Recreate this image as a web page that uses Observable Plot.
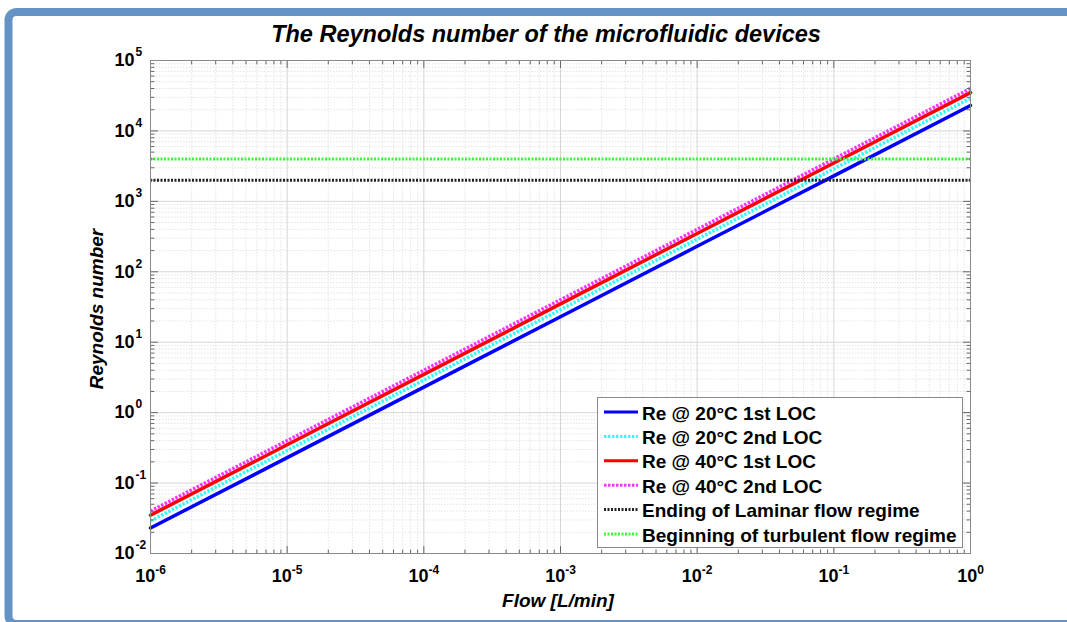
<!DOCTYPE html>
<html>
<head>
<meta charset="utf-8">
<script src="https://cdn.jsdelivr.net/npm/d3@7"></script>
<script src="https://cdn.jsdelivr.net/npm/@observablehq/plot@0.6"></script>
<style>
  html, body { margin: 0; padding: 0; background: #fff; }
  #chart svg { display: block; }
</style>
</head>
<body>
<div id="chart"></div>
<script>
// ---- Data ----
const flow = [1e-6, 1e-5, 1e-4, 1e-3, 1e-2, 1e-1, 1];          // L/min
const re20First  = [0.023, 0.23, 2.3, 23, 230, 2300, 23000];
const re20Second = [0.029, 0.29, 2.9, 29, 290, 2900, 29000];
const re40First  = [0.035, 0.35, 3.5, 35, 350, 3500, 35000];
const re40Second = [0.040, 0.40, 4.0, 40, 400, 4000, 40000];
const laminarEnd = [2000];
const turbulentStart = [4000];
const seriesNames = [
  "Re @ 20°C 1st LOC",
  "Re @ 20°C 2nd LOC",
  "Re @ 40°C 1st LOC",
  "Re @ 40°C 2nd LOC",
  "Ending of Laminar flow regime",
  "Beginning of turbulent flow regime"
];
const xTicks = [1e-6, 1e-5, 1e-4, 1e-3, 1e-2, 1e-1, 1];
const yTicks = [1e-2, 1e-1, 1, 1e1, 1e2, 1e3, 1e4, 1e5];
const titleText = "The Reynolds number of the microfluidic devices";
const xLabel = "Flow [L/min]";
const yLabel = "Reynolds number";

// ---- Styles ----
const colors = ["#0000ff", "#33ffff", "#ff0000", "#ff33ff", "#222222", "#33ff33"];
const dashes = [null, "2.5,1.5", null, "2.5,1.5", "2,1.5", "2,1.5"];
const FONT = "'Liberation Sans', Arial, Helvetica, sans-serif";

const seriesValues = [re20First, re20Second, re40First, re40Second];
const lineData = seriesValues.map(vals => flow.map((f, i) => ({flow: f, re: vals[i]})));

// minor tick / grid positions
function minors(ticks) {
  const out = [];
  for (let i = 0; i < ticks.length - 1; i++) for (let k = 2; k <= 9; k++) out.push(ticks[i] * k);
  return out;
}
const xMinor = minors(xTicks);
const yMinor = minors(yTicks);

const spike = { draw(context, l) { context.moveTo(0, 0); context.lineTo(0, -l); } };
const tickColor = "#666";
const xMin = xTicks[0], xMax = xTicks[xTicks.length - 1];
const yMin = yTicks[0], yMax = yTicks[yTicks.length - 1];

function tickVectors(vals, len) {
  return [
    Plot.vector(vals, {x: d => d, y: yMin, length: len, rotate: 0, anchor: "start", shape: spike, stroke: tickColor, strokeWidth: 1}),
    Plot.vector(vals, {x: d => d, y: yMax, length: len, rotate: 180, anchor: "start", shape: spike, stroke: tickColor, strokeWidth: 1})
  ];
}
function tickVectorsY(vals, len) {
  return [
    Plot.vector(vals, {y: d => d, x: xMin, length: len, rotate: 90, anchor: "start", shape: spike, stroke: tickColor, strokeWidth: 1}),
    Plot.vector(vals, {y: d => d, x: xMax, length: len, rotate: -90, anchor: "start", shape: spike, stroke: tickColor, strokeWidth: 1})
  ];
}

const plot = Plot.plot({
  width: 1067,
  height: 622,
  marginLeft: 150,
  marginRight: 97,
  marginTop: 60,
  marginBottom: 69,
  style: {fontFamily: FONT, background: "#fff", color: "#000"},
  x: {type: "log", domain: [xMin, xMax], axis: null},
  y: {type: "log", domain: [yMin, yMax], axis: null},
  marks: [
    // grid
    Plot.ruleX(xMinor, {stroke: "#e4e4e4", strokeDasharray: "1.5,1.5"}),
    Plot.ruleY(yMinor, {stroke: "#e4e4e4", strokeDasharray: "1.5,1.5"}),
    Plot.ruleX(xTicks, {stroke: "#d6d6d6"}),
    Plot.ruleY(yTicks, {stroke: "#d6d6d6"}),
    // data lines
    ...lineData.map((data, i) => Plot.line(data, {
      x: "flow", y: "re", stroke: colors[i], strokeWidth: 3.5,
      strokeDasharray: dashes[i], strokeLinecap: dashes[i] ? "butt" : "round"
    })),
    Plot.ruleY(laminarEnd, {stroke: colors[4], strokeWidth: 3, strokeDasharray: dashes[4]}),
    Plot.ruleY(turbulentStart, {stroke: colors[5], strokeWidth: 3, strokeDasharray: dashes[5]}),
    // inward ticks
    ...tickVectors(xTicks, 7),
    ...tickVectors(xMinor, 3.5),
    ...tickVectorsY(yTicks, 7),
    ...tickVectorsY(yMinor, 3.5),
    Plot.frame({stroke: "#8a8a8a"}),
    // axes
    Plot.axisX(xTicks, {
      anchor: "bottom", tickSize: 0, tickPadding: 16,
      tickFormat: d => "10^" + Math.round(Math.log10(d)),
      fontSize: 18, fontWeight: "bold", label: null
    }),
    Plot.axisY(yTicks, {
      anchor: "left", tickSize: 0, tickPadding: 16,
      tickFormat: () => "10", textAnchor: "end",
      fontSize: 18, fontWeight: "bold", label: null
    }),
    Plot.axisY(yTicks, {
      anchor: "left", tickSize: 0, tickPadding: 16,
      tickFormat: d => String(Math.round(Math.log10(d))), textAnchor: "start",
      dx: 1, dy: -8, fontSize: 12, fontWeight: "bold", label: null
    })
  ]
});

document.getElementById("chart").appendChild(plot);
const svg = d3.select(plot);

// superscript exponents on x tick labels
svg.selectAll('[aria-label="x-axis tick label"] text').each(function() {
  const t = d3.select(this);
  const s = t.text();
  if (s.indexOf("^") < 0) return;
  const [base, exp] = s.split("^");
  t.text(null);
  t.append("tspan").text(base);
  t.append("tspan").attr("dy", "-8").attr("font-size", 12).text(exp);
});

// title and axis labels
svg.append("text")
  .attr("x", 546).attr("y", 42)
  .attr("text-anchor", "middle")
  .attr("font-family", FONT).attr("font-size", 23.5)
  .attr("font-weight", "bold").attr("font-style", "italic")
  .attr("fill", "#000")
  .text(titleText);

svg.append("text")
  .attr("x", 558).attr("y", 607)
  .attr("text-anchor", "middle")
  .attr("font-family", FONT).attr("font-size", 19)
  .attr("font-weight", "bold").attr("font-style", "italic")
  .attr("fill", "#000")
  .text(xLabel);

svg.append("text")
  .attr("transform", "translate(103,309) rotate(-90)")
  .attr("text-anchor", "middle")
  .attr("font-family", FONT).attr("font-size", 19)
  .attr("font-weight", "bold").attr("font-style", "italic")
  .attr("fill", "#000")
  .text(yLabel);

// legend
const lg = svg.append("g");
lg.append("rect")
  .attr("x", 597.5).attr("y", 397.5).attr("width", 365).attr("height", 150)
  .attr("fill", "#fff").attr("stroke", "#8a8a8a");
seriesNames.forEach((name, i) => {
  const cy = 412 + i * 24.4;
  lg.append("line")
    .attr("x1", 604).attr("x2", 638).attr("y1", cy).attr("y2", cy)
    .attr("stroke", colors[i]).attr("stroke-width", 3)
    .attr("stroke-dasharray", dashes[i]);
  lg.append("text")
    .attr("x", 642).attr("y", cy + 1)
    .attr("text-anchor", "start")
    .attr("dominant-baseline", "central")
    .attr("font-family", FONT).attr("font-size", 19).attr("font-weight", "bold")
    .attr("fill", "#000")
    .text(name);
});

// page border
svg.append("rect")
  .attr("x", 8.5).attr("y", 12).attr("width", 1100).attr("height", 612)
  .attr("rx", 8)
  .attr("fill", "none").attr("stroke", "#6593c6").attr("stroke-width", 8);
</script>
</body>
</html>
